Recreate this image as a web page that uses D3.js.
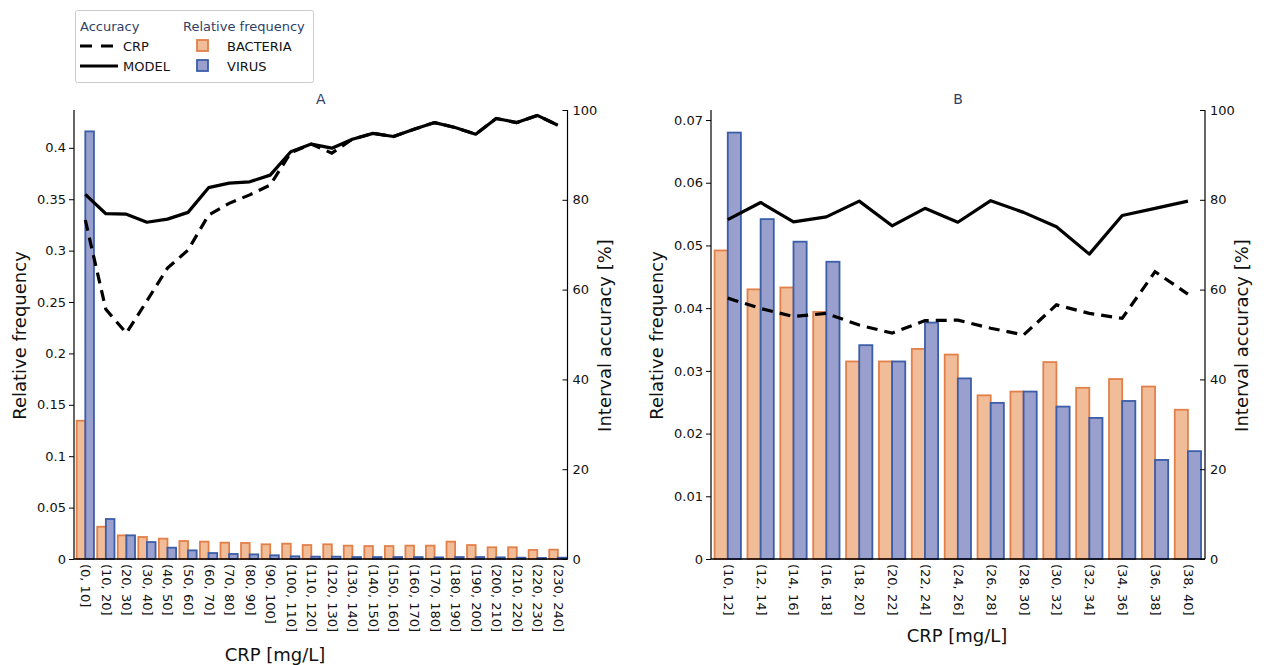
<!DOCTYPE html>
<html>
<head>
<meta charset="utf-8">
<script src="https://cdn.jsdelivr.net/npm/d3@7"></script>
<style>
  html, body { margin: 0; padding: 0; background: #fff; }
  svg { display: block; font-family: "DejaVu Sans", sans-serif; }
</style>
</head>
<body>
<svg id="chart" width="1264" height="665"></svg>
<script>
// ---- Panel A: CRP bins of 10 mg/L ----
const catsA = ["(0, 10]", "(10, 20]", "(20, 30]", "(30, 40]", "(40, 50]", "(50, 60]",
  "(60, 70]", "(70, 80]", "(80, 90]", "(90, 100]", "(100, 110]", "(110, 120]",
  "(120, 130]", "(130, 140]", "(140, 150]", "(150, 160]", "(160, 170]", "(170, 180]",
  "(180, 190]", "(190, 200]", "(200, 210]", "(210, 220]", "(220, 230]", "(230, 240]"];
const bacteriaA = [0.1345, 0.0314, 0.0230, 0.0214, 0.0198, 0.0175, 0.0169, 0.0159,
  0.0156, 0.0143, 0.0149, 0.0136, 0.0143, 0.0130, 0.0126, 0.0126, 0.0130, 0.0130,
  0.0169, 0.0136, 0.0114, 0.0114, 0.0088, 0.0091];
const virusA = [0.416, 0.0389, 0.0230, 0.0165, 0.0110, 0.0084, 0.0058, 0.0049,
  0.0045, 0.0036, 0.0026, 0.0023, 0.0023, 0.0019, 0.0019, 0.0019, 0.0019, 0.0016,
  0.0019, 0.0019, 0.0016, 0.0013, 0.0010, 0.0013];
const modelA = [81.2, 76.9, 76.8, 75.0, 75.7, 77.2, 82.7, 83.7, 84.0, 85.5, 90.7, 92.4,
  91.5, 93.5, 94.8, 94.1, 95.7, 97.2, 96.1, 94.6, 98.1, 97.2, 98.8, 96.6];
const crpA = [75.5, 55.6, 50.3, 57.5, 64.8, 68.8, 76.6, 79.2, 81.1, 83.3, 90.5, 92.4,
  90.4, 93.5, 94.8, 94.1, 95.7, 97.2, 96.1, 94.6, 98.1, 97.2, 98.8, 96.6];
const freqTicksA = [0, 0.05, 0.1, 0.15, 0.2, 0.25, 0.3, 0.35, 0.4];

// ---- Panel B: CRP bins of 2 mg/L between 10 and 40 ----
const catsB = ["(10, 12]", "(12, 14]", "(14, 16]", "(16, 18]", "(18, 20]", "(20, 22]",
  "(22, 24]", "(24, 26]", "(26, 28]", "(28, 30]", "(30, 32]", "(32, 34]",
  "(34, 36]", "(36, 38]", "(38, 40]"];
const bacteriaB = [0.0492, 0.0430, 0.0433, 0.0394, 0.0315, 0.0315, 0.0335, 0.0326,
  0.0261, 0.0267, 0.0314, 0.0273, 0.0287, 0.0275, 0.0238];
const virusB = [0.0680, 0.0542, 0.0506, 0.0474, 0.0341, 0.0315, 0.0377, 0.0288,
  0.0249, 0.0267, 0.0243, 0.0225, 0.0252, 0.0158, 0.0172];
const modelB = [75.6, 79.4, 75.1, 76.2, 79.7, 74.2, 78.1, 75.0, 79.8, 77.2, 74.0,
  67.9, 76.5, 78.1, 79.7];
const crpB = [58.1, 55.8, 54.0, 54.7, 52.1, 50.3, 53.1, 53.2, 51.4, 49.9, 56.6,
  54.7, 53.6, 64.0, 59.0];
const freqTicksB = [0, 0.01, 0.02, 0.03, 0.04, 0.05, 0.06, 0.07];

const accTicks = [0, 20, 40, 60, 80, 100];

const COL = {
  bacFill: "#f1bd98", bacEdge: "#e2804a",
  virFill: "#99a0cd", virEdge: "#3c5da8",
  title: "#2f3f66"
};

const svg = d3.select("#chart");
const fmt = d => d === 0 ? "0" : String(+d.toFixed(3));

function panel(cfg) {
  const { x0, x1, top, bottom, cats, bac, vir, model, crp, freqMax, freqTicks,
    xPad, barW, title, xLabelX } = cfg;
  const g = svg.append("g");
  const n = cats.length;
  const x = d3.scaleLinear().domain([-xPad[0], n - 1 + xPad[1]]).range([x0, x1]);
  const yL = d3.scaleLinear().domain([0, freqMax]).range([bottom, top]);
  const yR = d3.scaleLinear().domain([0, 100]).range([bottom, top]);

  // bars: bacteria left of the bin centre, virus right of it
  const bars = g.append("g");
  bars.selectAll("rect.bac").data(bac).join("rect")
    .attr("x", (d, i) => x(i - barW)).attr("width", x(barW) - x(0))
    .attr("y", d => yL(d)).attr("height", d => yL(0) - yL(d))
    .attr("fill", COL.bacFill).attr("stroke", COL.bacEdge).attr("stroke-width", 1.8);
  bars.selectAll("rect.vir").data(vir).join("rect")
    .attr("x", (d, i) => x(i)).attr("width", x(barW) - x(0))
    .attr("y", d => yL(d)).attr("height", d => yL(0) - yL(d))
    .attr("fill", COL.virFill).attr("stroke", COL.virEdge).attr("stroke-width", 1.8);

  // accuracy lines
  const line = d3.line().x((d, i) => x(i)).y(d => yR(d));
  g.append("path").datum(crp).attr("d", line).attr("fill", "none")
    .attr("stroke", "#000").attr("stroke-width", 3.2).attr("stroke-dasharray", "11,7");
  g.append("path").datum(model).attr("d", line).attr("fill", "none")
    .attr("stroke", "#000").attr("stroke-width", 3.2).attr("stroke-linejoin", "round");

  // left axis
  const axL = g.append("g").attr("transform", `translate(${x0},0)`)
    .call(d3.axisLeft(yL).tickValues(freqTicks).tickFormat(fmt).tickSize(5).tickPadding(3));
  axL.select(".domain").attr("d", `M0,${top}V${bottom}`).attr("stroke", "#000").attr("stroke-width", 1.2);
  axL.selectAll("text").attr("font-size", 13).attr("fill", "#111").attr("font-family", "DejaVu Sans");

  // right axis: ticks point inward, labels outside
  const axR = g.append("g").attr("transform", `translate(${x1},0)`)
    .call(d3.axisRight(yR).tickValues(accTicks).tickSize(0).tickPadding(5));
  axR.select(".domain").attr("d", `M0,${top}V${bottom}`).attr("stroke", "#000").attr("stroke-width", 1.2);
  axR.selectAll(".tick line").attr("x1", -5).attr("x2", 0).attr("stroke", "#000");
  axR.selectAll("text").attr("font-size", 13).attr("fill", "#111").attr("font-family", "DejaVu Sans");

  // bottom axis with rotated category labels
  const axB = g.append("g").attr("transform", `translate(0,${bottom})`)
    .call(d3.axisBottom(x).tickValues(d3.range(n)).tickFormat(i => cats[i]).tickSize(0));
  axB.select(".domain").attr("d", `M${x0},0H${x1}`).attr("stroke", "#000").attr("stroke-width", 1.5);
  axB.selectAll("text")
    .attr("font-size", 13).attr("fill", "#111").attr("font-family", "DejaVu Sans")
    .attr("transform", "rotate(90)").attr("text-anchor", "start")
    .attr("x", 5).attr("y", 0).attr("dy", "0.35em");

  // titles and axis labels
  g.append("text").attr("x", (x0 + x1) / 2).attr("y", 104).attr("text-anchor", "middle")
    .attr("font-size", 14).attr("fill", COL.title).text(title);
  g.append("text").attr("transform", `translate(${x0 - 48},${(top + bottom) / 2 + 1}) rotate(-90)`)
    .attr("text-anchor", "middle").attr("font-size", 18).attr("fill", "#111").text("Relative frequency");
  g.append("text").attr("transform", `translate(${x1 + 43},${(top + bottom) / 2 + 1}) rotate(-90)`)
    .attr("text-anchor", "middle").attr("font-size", 18).attr("fill", "#111").text("Interval accuracy [%]");
  g.append("text").attr("x", xLabelX).attr("y", cfg.xLabelY).attr("text-anchor", "middle")
    .attr("font-size", 18).attr("fill", "#111").text("CRP [mg/L]");
}

panel({
  x0: 74, x1: 567.5, top: 110, bottom: 559, cats: catsA, bac: bacteriaA, vir: virusA,
  model: modelA, crp: crpA, freqMax: 0.4368, freqTicks: freqTicksA,
  xPad: [0.55, 0.47], barW: 0.42, title: "A", xLabelX: 275, xLabelY: 661
});
panel({
  x0: 711, x1: 1205, top: 110, bottom: 559, cats: catsB, bac: bacteriaB, vir: virusB,
  model: modelB, crp: crpB, freqMax: 0.0716, freqTicks: freqTicksB,
  xPad: [0.51, 0.52], barW: 0.40, title: "B", xLabelX: 957, xLabelY: 642
});

// legend
const lg = svg.append("g");
lg.append("rect").attr("x", 75.5).attr("y", 10.5).attr("width", 238).attr("height", 72)
  .attr("rx", 2).attr("fill", "#fff").attr("stroke", "#cccccc");
lg.append("text").attr("x", 80).attr("y", 31).attr("font-size", 13).attr("fill", COL.title).text("Accuracy");
lg.append("text").attr("x", 183).attr("y", 31).attr("font-size", 13).attr("fill", COL.title).text("Relative frequency");
lg.append("line").attr("x1", 80).attr("x2", 114).attr("y1", 46).attr("y2", 46)
  .attr("stroke", "#000").attr("stroke-width", 3.2).attr("stroke-dasharray", "12,9");
lg.append("line").attr("x1", 80).attr("x2", 118).attr("y1", 66).attr("y2", 66)
  .attr("stroke", "#000").attr("stroke-width", 3.2);
lg.append("text").attr("x", 123).attr("y", 51).attr("font-size", 13).attr("fill", "#111").text("CRP");
lg.append("text").attr("x", 123).attr("y", 71).attr("font-size", 13).attr("fill", "#111").text("MODEL");
lg.append("rect").attr("x", 197).attr("y", 40).attr("width", 11).attr("height", 11)
  .attr("fill", COL.bacFill).attr("stroke", COL.bacEdge).attr("stroke-width", 1.8);
lg.append("rect").attr("x", 197).attr("y", 60).attr("width", 11).attr("height", 11)
  .attr("fill", COL.virFill).attr("stroke", COL.virEdge).attr("stroke-width", 1.8);
lg.append("text").attr("x", 227).attr("y", 51).attr("font-size", 13).attr("fill", "#111").text("BACTERIA");
lg.append("text").attr("x", 227).attr("y", 71).attr("font-size", 13).attr("fill", "#111").text("VIRUS");
</script>
</body>
</html>
